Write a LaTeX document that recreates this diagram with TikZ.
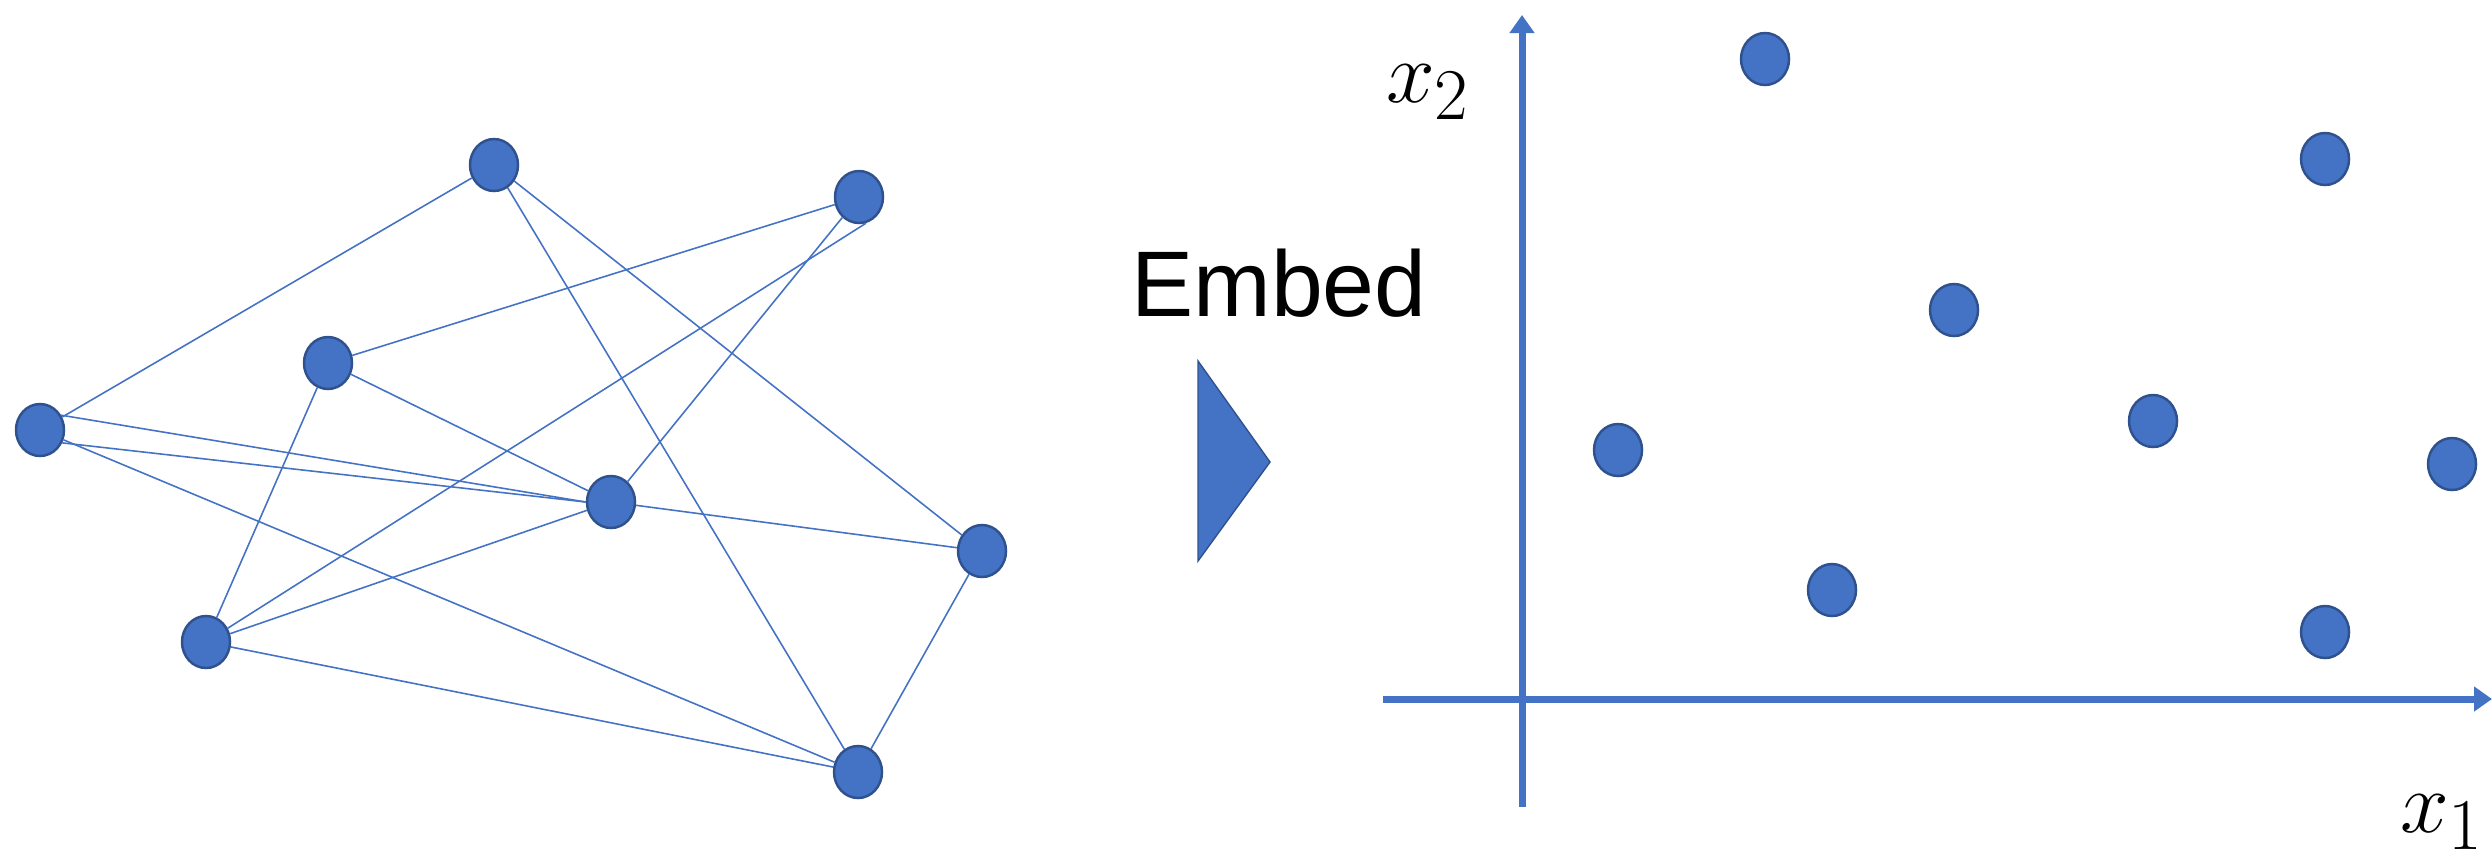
\documentclass[tikz,border=0pt]{standalone}
\usepackage{amsmath}
\usepackage{fontspec}
\newfontfamily\embedfont{Liberation Sans}
\usetikzlibrary{arrows.meta, shapes.geometric}
\definecolor{dotblue}{HTML}{4472C4}
\definecolor{rimblue}{HTML}{2F528F}

\begin{document}
\begin{tikzpicture}[x=0.01cm, y=-0.01cm,
    dot/.style={ellipse, draw=rimblue, line width=0.7pt, fill=dotblue,
        minimum width=0.48cm, minimum height=0.52cm, inner sep=0pt},
    link/.style={draw=dotblue, line width=0.45pt},
    axis/.style={draw=dotblue, line width=2pt,
        -{Triangle[length=1.8mm, width=2.4mm]}}]
    \useasboundingbox (0,0) rectangle (2492,860);

    % 左侧图
    \node[dot] (A) at (494,165) {};
    \node[dot] (B) at (859,197) {};
    \node[dot] (C) at (328,363) {};
    \node[dot] (D) at (40,430) {};
    \node[dot] (E) at (611,502) {};
    \node[dot] (F) at (982,551) {};
    \node[dot] (G) at (206,642) {};
    \node[dot] (H) at (858,772) {};

    % 边
    \draw[link] (A) -- (D);
    \draw[link] (A) -- (H);
    \draw[link] (A) -- (F);
    \draw[link] (B) -- (C);
    \draw[link] (B) -- (E);
    \draw[link] (B.-75) -- (G);
    \draw[link] (C) -- (E);
    \draw[link] (C) -- (G);
    \draw[link] (D.35) -- (E.west);
    \draw[link] (D.-30) -- (E.west);
    \draw[link] (D) -- (H);
    \draw[link] (E) -- (F);
    \draw[link] (E) -- (G);
    \draw[link] (F) -- (H);
    \draw[link] (G) -- (H);

    % 嵌入
    \node[font=\embedfont\fontsize{26.5}{30}\selectfont] (embed) at (1279,283) {Embed};
    \draw[draw=rimblue, line width=0.4pt, fill=dotblue]
        (1198,361) -- (1270,462) -- (1198,561) -- cycle;

    % 坐标轴
    \coordinate (ybot) at (1522,807);
    \coordinate (ytop) at (1522,15);
    \coordinate (xleft) at (1383,699);
    \coordinate (xright) at (2492,699);
    \draw[axis] (ybot) -- (ytop);
    \draw[axis] (xleft) -- (xright);
    \node[font=\fontsize{28}{32}\selectfont] (xtwo) at (1428,92) {$x_2$};
    \node[font=\fontsize{28}{32}\selectfont] (xone) at (2442,822) {$x_1$};

    % 右侧点
    \node[dot] (p1) at (1765,59) {};
    \node[dot] (p2) at (2325,159) {};
    \node[dot] (p3) at (1954,310) {};
    \node[dot] (p4) at (1618,450) {};
    \node[dot] (p5) at (2153,421) {};
    \node[dot] (p6) at (2452,464) {};
    \node[dot] (p7) at (1832,590) {};
    \node[dot] (p8) at (2325,632) {};
\end{tikzpicture}
\end{document}
